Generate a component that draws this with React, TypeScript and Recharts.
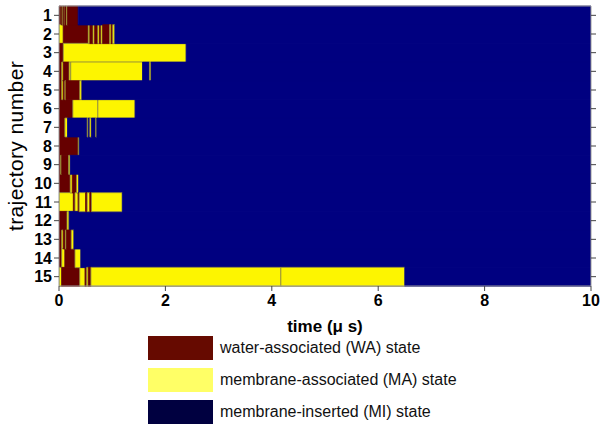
import React from "react";
import { BarChart, Bar, XAxis, YAxis, Cell } from "recharts";

type State = "WA" | "MA" | "MI";
// each segment: [state, end time in µs]; the last MI segment runs to 10 µs
type Seg = [State, number];

const traj1: Seg[] = [["WA", 0.04], ["MA", 0.05], ["WA", 0.07], ["MA", 0.08], ["WA", 0.10], ["MA", 0.11], ["WA", 0.14], ["MA", 0.16], ["WA", 0.36], ["MI", 10]];
const traj2: Seg[] = [["MA", 0.08], ["WA", 0.55], ["MA", 0.58], ["WA", 0.64], ["MA", 0.67], ["WA", 0.73], ["MA", 0.76], ["WA", 0.79], ["MA", 0.82], ["WA", 0.95], ["MA", 0.98], ["WA", 1.01], ["MA", 1.05], ["MI", 10]];
const traj3: Seg[] = [["WA", 0.08], ["MA", 2.39], ["MI", 10]];
const traj4: Seg[] = [["WA", 0.05], ["MA", 0.08], ["WA", 0.19], ["MA", 0.22], ["MA", 1.57], ["MI", 1.70], ["MA", 1.73], ["MI", 10]];
const traj5: Seg[] = [["WA", 0.05], ["MA", 0.08], ["WA", 0.11], ["MA", 0.13], ["WA", 0.39], ["MA", 0.43], ["MI", 10]];
const traj6: Seg[] = [["WA", 0.26], ["MA", 0.73], ["MA", 1.43], ["MI", 10]];
const traj7: Seg[] = [["WA", 0.11], ["MA", 0.16], ["MI", 0.53], ["MA", 0.55], ["MI", 0.58], ["MA", 0.61], ["MI", 0.69], ["MA", 0.71], ["MI", 10]];
const traj8: Seg[] = [["WA", 0.36], ["MA", 0.38], ["MI", 10]];
const traj9: Seg[] = [["WA", 0.03], ["MA", 0.05], ["WA", 0.18], ["MA", 0.21], ["MI", 10]];
const traj10: Seg[] = [["WA", 0.21], ["MA", 0.25], ["WA", 0.33], ["MA", 0.37], ["MI", 10]];
const traj11: Seg[] = [["MA", 0.27], ["WA", 0.30], ["MA", 0.36], ["WA", 0.38], ["MA", 0.50], ["WA", 0.53], ["MA", 0.58], ["WA", 0.61], ["MA", 1.19], ["MI", 10]];
const traj12: Seg[] = [["WA", 0.15], ["MA", 0.19], ["MI", 10]];
const traj13: Seg[] = [["WA", 0.05], ["MA", 0.08], ["WA", 0.12], ["MA", 0.14], ["WA", 0.23], ["MA", 0.28], ["MI", 10]];
const traj14: Seg[] = [["WA", 0.05], ["MA", 0.11], ["WA", 0.30], ["MA", 0.41], ["MI", 10]];
const traj15: Seg[] = [["MA", 0.05], ["WA", 0.39], ["MA", 0.49], ["WA", 0.52], ["MA", 0.55], ["WA", 0.60], ["MA", 4.17], ["MA", 6.50], ["MI", 10]];

const trajectories = [traj1, traj2, traj3, traj4, traj5, traj6, traj7, traj8, traj9, traj10, traj11, traj12, traj13, traj14, traj15];
const timeTicks = [0, 2, 4, 6, 8, 10];

const stateColors: Record<State, string> = {
  WA: "#660000",
  MA: "#fdf500",
  MI: "#000080",
};

const legendItems = [
  { label: "water-associated (WA) state", color: "#660a00" },
  { label: "membrane-associated (MA) state", color: "#ffff66" },
  { label: "membrane-inserted (MI) state", color: "#000040" },
];

const maxSegs = Math.max(...trajectories.map((t) => t.length));

const rows = trajectories.map((segs, i) => {
  const row: Record<string, number | string> = { name: String(i + 1) };
  let prev = 0;
  segs.forEach(([, end], k) => {
    row[`s${k}`] = end - prev;
    prev = end;
  });
  return row;
});

const FONT = "'Liberation Sans', Arial, Helvetica, sans-serif";
const tickStyle = { fontSize: 16, fontWeight: 700, fill: "#000", fontFamily: FONT };

export default function App() {
  return (
    <div style={{ position: "absolute", left: 0, top: 0, width: 602, height: 428, background: "#fff" }}>
      <BarChart
        width={602}
        height={428}
        data={rows}
        layout="vertical"
        barCategoryGap={0}
        margin={{ top: 5, right: 10, bottom: 102, left: 19 }}
      >
        <XAxis
          xAxisId="b"
          type="number"
          domain={[0, 10]}
          ticks={timeTicks}
          orientation="bottom"
          height={40}
          tick={tickStyle}
          tickSize={5}
          tickMargin={4}
          tickLine={{ stroke: "#444" }}
          axisLine={{ stroke: "#999" }}
          allowDataOverflow
          label={{
            value: "time (μ s)",
            position: "insideBottom",
            offset: -6,
            style: { fontSize: 17, fontWeight: 700, fill: "#000", fontFamily: FONT },
          }}
        />
        <XAxis
          xAxisId="t"
          type="number"
          domain={[0, 10]}
          ticks={timeTicks}
          orientation="top"
          height={1}
          tickFormatter={() => ""}
          tickSize={5}
          tickLine={{ stroke: "#444" }}
          axisLine={{ stroke: "#999" }}
        />
        <YAxis
          yAxisId="l"
          type="category"
          dataKey="name"
          width={40}
          tick={tickStyle}
          tickSize={5}
          tickLine={{ stroke: "#444" }}
          axisLine={{ stroke: "#999" }}
          interval={0}
          label={{
            value: "trajectory number",
            angle: -90,
            position: "insideLeft",
            content: () => (
              <text
                x={15}
                y={146}
                transform="rotate(-90 15 146)"
                textAnchor="middle"
                dominantBaseline="central"
                style={{ fontSize: 21, fontWeight: 400, fill: "#000", fontFamily: FONT, letterSpacing: 0.4 }}
              >
                trajectory number
              </text>
            ),
          }}
        />
        <YAxis
          yAxisId="r"
          type="category"
          dataKey="name"
          orientation="right"
          width={1}
          tickFormatter={() => ""}
          tickSize={5}
          tickLine={{ stroke: "#444" }}
          axisLine={{ stroke: "#999" }}
          interval={0}
        />
        {Array.from({ length: maxSegs }, (_, k) => (
          <Bar
            key={k}
            dataKey={`s${k}`}
            stackId="a"
            xAxisId="b"
            yAxisId="l"
            isAnimationActive={false}
          >
            {trajectories.map((segs, i) => {
              const seg = segs[k];
              const st = seg ? seg[0] : "MI";
              return (
                <Cell
                  key={i}
                  fill={stateColors[st]}
                  stroke={st === "MA" ? "#8a8440" : stateColors[st]}
                  strokeWidth={st === "MA" ? 0.8 : 0.7}
                />
              );
            })}
          </Bar>
        ))}
      </BarChart>
      <div style={{ position: "absolute", left: 148, top: 336, fontFamily: FONT }}>
        {legendItems.map((it) => (
          <div key={it.label} style={{ display: "flex", alignItems: "center", height: 24, marginBottom: 8 }}>
            <div style={{ width: 65, height: 24, background: it.color }} />
            <span style={{ marginLeft: 7, fontSize: 16, color: "#111" }}>{it.label}</span>
          </div>
        ))}
      </div>
    </div>
  );
}
